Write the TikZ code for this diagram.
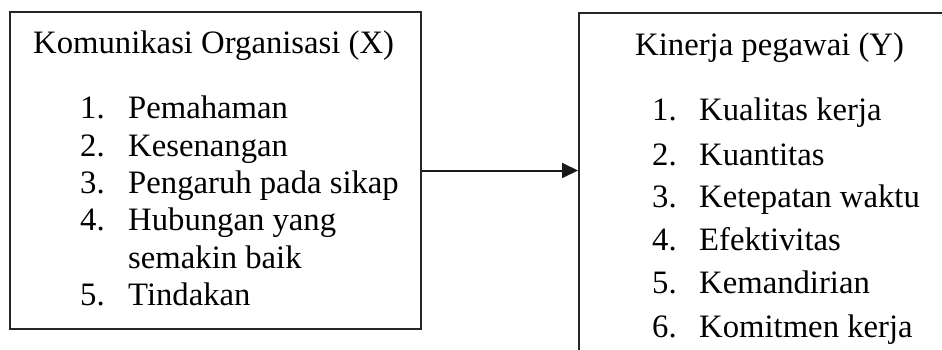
\documentclass[tikz,border=0pt]{standalone}
\usepackage{fontspec}
\setmainfont{Liberation Serif}
\usetikzlibrary{arrows.meta}
\begin{document}
\begin{tikzpicture}[x=1pt,y=1pt,
  frame/.style={draw=black!85,line width=2pt,rectangle,inner sep=0pt},
  txt/.style={anchor=base west,inner sep=0pt,font=\fontsize{32.7}{36}\selectfont},
  link/.style={draw=black!90,line width=2pt,-{Triangle[length=16pt,width=15pt]}}]
\useasboundingbox (0,0) rectangle (942,349);
\clip (0,0) rectangle (942,349);
% boxes
\node[frame,minimum width=411pt,minimum height=317pt] (L) at (215.5,178.5) {};
\node[frame,minimum width=420pt,minimum height=380pt] (R) at (789,146) {};
% left box contents
\node[txt] (lt) at (33,296) {Komunikasi Organisasi (X)};
\node[txt] (l1n) at (80,231) {1.};
\node[txt] (l1) at (128,231) {Pemahaman};
\node[txt] (l2n) at (80,193) {2.};
\node[txt] (l2) at (128,193) {Kesenangan};
\node[txt] (l3n) at (80,156) {3.};
\node[txt] (l3) at (128,156) {Pengaruh pada sikap};
\node[txt] (l4n) at (80,119) {4.};
\node[txt] (l4) at (128,119) {Hubungan yang};
\node[txt] (l4b) at (128,81) {semakin baik};
\node[txt] (l5n) at (80,44) {5.};
\node[txt] (l5) at (128,44) {Tindakan};
% right box contents
\node[txt] (rt) at (635,294) {Kinerja pegawai (Y)};
\node[txt] (r1n) at (652,229) {1.};
\node[txt] (r1) at (699,229) {Kualitas kerja};
\node[txt] (r2n) at (652,184) {2.};
\node[txt] (r2) at (699,184) {Kuantitas};
\node[txt] (r3n) at (652,142) {3.};
\node[txt] (r3) at (699,142) {Ketepatan waktu};
\node[txt] (r4n) at (652,99) {4.};
\node[txt] (r4) at (699,99) {Efektivitas};
\node[txt] (r5n) at (652,56) {5.};
\node[txt] (r5) at (699,56) {Kemandirian};
\node[txt] (r6n) at (652,12) {6.};
\node[txt] (r6) at (699,12) {Komitmen kerja};
% connector
\draw[link] (L.east) -- (L.east -| R.west);
\end{tikzpicture}
\end{document}
